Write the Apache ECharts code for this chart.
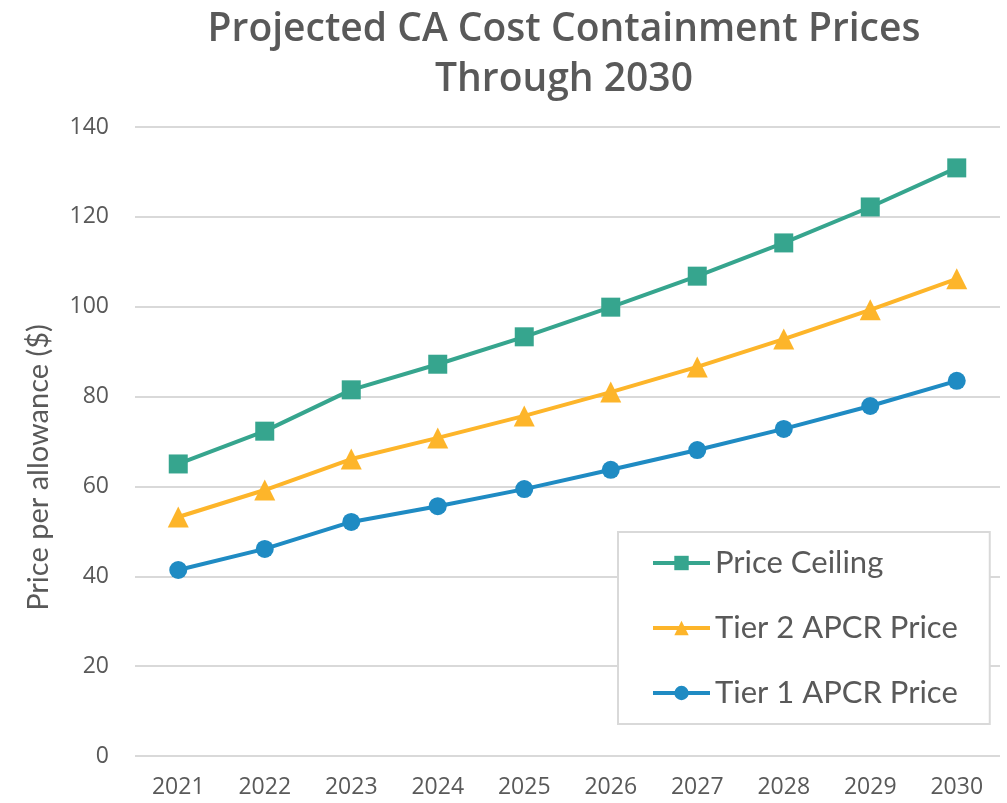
<!DOCTYPE html>
<html>
<head>
<meta charset="utf-8">
<script src="https://cdn.jsdelivr.net/npm/echarts@6/dist/echarts.min.js"></script>
<style>
  html, body { margin: 0; padding: 0; background: #fff; }
  #main { width: 1007px; height: 803px; }
</style>
</head>
<body>
<div id="main"></div>
<script>
// data
var years = ['2021', '2022', '2023', '2024', '2025', '2026', '2027', '2028', '2029', '2030']
var priceCeiling = [65.0, 72.3, 81.5, 87.2, 93.3, 99.9, 106.8, 114.2, 122.2, 130.9]
var tier2 = [53.2, 59.2, 66.1, 70.8, 75.7, 81.0, 86.6, 92.8, 99.3, 106.2]
var tier1 = [41.4, 46.1, 52.1, 55.6, 59.4, 63.7, 68.1, 72.8, 77.9, 83.5]

var colors = ['#36a58e', '#fdb52a', '#1f8bc3']
var textColor = '#595959'

var chart = echarts.init(document.getElementById('main'))

function lineSeries(name, data, symbol, size, color) {
  return {
    name: name,
    type: 'line',
    data: data,
    symbol: symbol,
    symbolSize: size,
    lineStyle: { width: 4, color: color },
    itemStyle: { color: color },
    emphasis: { disabled: true }
  }
}

chart.setOption({
  animation: false,
  color: colors,
  title: {
    text: 'Projected CA Cost Containment Prices\nThrough 2030',
    left: 559,
    textAlign: 'center',
    top: 0,
    textStyle: {
      fontFamily: 'Open Sans',
      fontSize: 39,
      fontWeight: 600,
      color: textColor,
      lineHeight: 50
    }
  },
  legend: {
    orient: 'vertical',
    left: 618,
    top: 532,
    padding: [13, 32, 13, 33],
    itemGap: 29,
    itemWidth: 57,
    itemHeight: 18,
    borderColor: '#d9d9d9',
    borderWidth: 2,
    backgroundColor: '#fff',
    lineStyle: { width: 4 },
    textStyle: { fontFamily: 'Lato', fontSize: 31, color: textColor, lineHeight: 36 },
    data: ['Price Ceiling', 'Tier 2 APCR Price', 'Tier 1 APCR Price']
  },
  grid: { left: 135, right: 7, top: 127, bottom: 47 },
  xAxis: {
    type: 'category',
    data: years,
    boundaryGap: true,
    axisLine: { show: false },
    axisTick: { show: false },
    axisLabel: { fontFamily: 'Open Sans', fontSize: 23, color: textColor, margin: 20 }
  },
  yAxis: {
    type: 'value',
    min: 0,
    max: 140,
    interval: 20,
    name: 'Price per allowance ($)',
    nameLocation: 'middle',
    nameGap: 82,
    nameTextStyle: { fontFamily: 'Lato', fontSize: 29, color: textColor, padding: [0, 0, 0, -52] },
    axisLine: { show: false },
    axisTick: { show: false },
    axisLabel: { fontFamily: 'Open Sans', fontSize: 23, color: textColor, margin: 26 },
    splitLine: { lineStyle: { color: '#d9d9d9', width: 2 } }
  },
  series: [
    lineSeries('Price Ceiling', priceCeiling, 'rect', 19, colors[0]),
    lineSeries('Tier 2 APCR Price', tier2, 'triangle', 21, colors[1]),
    lineSeries('Tier 1 APCR Price', tier1, 'circle', 18, colors[2])
  ]
})
</script>
</body>
</html>
